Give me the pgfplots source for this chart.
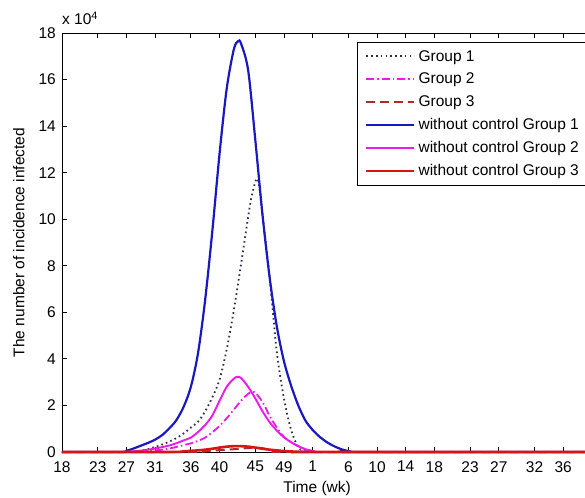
\documentclass[border=0pt]{standalone}
\usepackage{pgfplots}
\pgfplotsset{compat=1.18}
\usepackage{fontspec}
\setmainfont{Liberation Sans}
\definecolor{cblue}{rgb}{0.1,0.1,0.75}
\definecolor{cmag}{rgb}{0.92,0.1,0.92}
\definecolor{cdot}{rgb}{0.18,0.18,0.28}
\definecolor{cdred}{rgb}{0.7,0.16,0.16}
\definecolor{cred}{rgb}{0.85,0.08,0.08}
\newcommand\ff{\fontsize{15.5bp}{18bp}\selectfont}
\begin{document}
\begin{tikzpicture}
\begin{axis}[name=ax, at={(0,0)}, anchor=south west,
  scale only axis, width=537bp, height=419bp,
  xmin=0, xmax=75, ymin=0, ymax=18, clip=false,
  xtick={0,5,9,13,18,22,27,31,35,40,44,48,52,57,61,66,70},
  xticklabels={18,23,27,31,36,40,45,49,1,6,10,14,18,23,27,32,36},
  ytick={0,2,...,18},
  tick label style={font=\ff, inner sep=1bp},
  xticklabel style={yshift=-8bp},
  yticklabel style={xshift=-5bp},
  /pgf/number format/assume math mode=true,
  major tick length=5bp,
  tick style={black, line width=0.8bp},
  axis line style={line width=0.9bp},
  xlabel={Time (wk)}, ylabel={The number of incidence infected},
  label style={font=\ff},
  xlabel style={at={(rel axis cs:0.475,0)}, anchor=base, yshift=-40bp},
  ylabel style={at={(rel axis cs:0,0.5)}, anchor=south, yshift=34bp},
  legend style={at={(rel axis cs:0.549,0.9785)}, anchor=north west, font=\ff,
    draw=black, fill=white, row sep=6.4bp, inner xsep=8bp, inner ysep=6bp,
    nodes={inner xsep=3bp}},
  legend cell align=left,
  legend image code/.code={\draw[#1] (0bp,0bp) -- (48bp,0bp);},
]
% Group 1 (with control)
\addplot[cdot, line width=1.8bp, dash pattern=on 1.6bp off 3.2bp, smooth, tension=0.5] coordinates {
(0,0) (10,0) (11,0.05) (12,0.12) (13,0.22) (14,0.32) (15,0.45) (16,0.6) (17,0.8) (18,1.05) (19,1.3) (20,1.75) (21,2.35) (22,3.1) (23,4.4) (24,6.1) (25,8.05) (26,10.1) (26.5,11.0) (27.2,11.75) (27.6,11.3) (28,10.2) (29,7.5) (30,4.3) (31,2.3) (32,0.95) (33,0.2) (34,0.02) (35,0) (75,0)};
\addlegendentry{Group 1}
% Group 2 (with control)
\addplot[cmag, line width=1.8bp, dash pattern=on 8bp off 3bp on 1.5bp off 3bp, smooth, tension=0.5] coordinates {
(0,0) (10,0) (11,0.02) (12,0.04) (13,0.07) (14,0.1) (15,0.15) (16,0.22) (17,0.3) (18,0.37) (19,0.48) (20,0.62) (21,0.85) (22,1.12) (23,1.45) (24,1.82) (25,2.2) (26,2.5) (26.6,2.6) (27,2.55) (28,2.15) (29,1.55) (30,1.05) (31,0.65) (32,0.42) (33,0.25) (34,0.12) (35,0.04) (36,0) (75,0)};
\addlegendentry{Group 2}
% Group 3 (with control)
\addplot[cdred, line width=2bp, dash pattern=on 9bp off 5bp, smooth, tension=0.5] coordinates {
(0,0) (18,0) (20,0.04) (22,0.08) (24,0.12) (26,0.17) (27,0.19) (28,0.16) (29,0.1) (30,0.05) (31,0.02) (32,0) (75,0)};
\addlegendentry{Group 3}
% without control Group 1
\addplot[cblue, line width=2.2bp, smooth, tension=0.5] coordinates {
(0,0) (8,0) (9,0.05) (10,0.15) (11,0.27) (12,0.39) (13,0.53) (14,0.73) (15,1.02) (16,1.38) (17,1.95) (18,2.8) (19,4.25) (20,6.55) (21,9.5) (22,12.8) (23,15.6) (24,17.3) (24.6,17.65) (25,17.55) (26,16.4) (27,13.4) (28,10.2) (29,7.5) (30,5.4) (31,3.9) (32,2.85) (33,2.0) (34,1.35) (35,0.95) (36,0.65) (37,0.42) (38,0.25) (39,0.12) (40,0.04) (41,0) (75,0)};
\addlegendentry{without control Group 1}
% without control Group 2
\addplot[cmag, line width=1.9bp, smooth, tension=0.5] coordinates {
(0,0) (8,0) (9,0.01) (10,0.03) (11,0.06) (12,0.1) (13,0.15) (14,0.21) (15,0.28) (16,0.38) (17,0.5) (18,0.62) (19,0.86) (20,1.16) (21,1.57) (22,2.2) (23,2.8) (24,3.15) (24.5,3.23) (25,3.18) (26,2.8) (27,2.3) (28,1.75) (29,1.28) (30,0.92) (31,0.63) (32,0.42) (33,0.25) (34,0.12) (35,0.04) (36,0) (75,0)};
\addlegendentry{without control Group 2}
% without control Group 3
\addplot[cred, line width=2.6bp, smooth, tension=0.5] coordinates {
(0,0) (15,0) (17,0.03) (19,0.07) (20,0.1) (21,0.14) (22,0.19) (23,0.23) (24,0.25) (25,0.25) (26,0.23) (27,0.19) (28,0.14) (29,0.1) (30,0.07) (31,0.04) (33,0.01) (35,0) (75,0)};
\addlegendentry{without control Group 3}
\end{axis}
\node[anchor=base west, inner sep=0, font=\ff] at ([yshift=8bp]ax.north west) {x 10\textsuperscript{4}};
\pgfresetboundingbox
\useasboundingbox (-62bp,-46bp) rectangle (523bp,452bp);
\end{tikzpicture}
\end{document}
